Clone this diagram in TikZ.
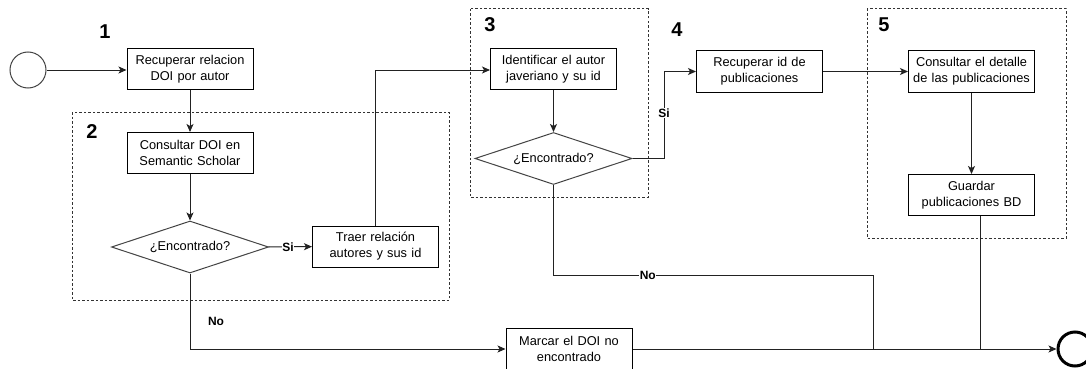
\documentclass[tikz,border=0pt]{standalone}
\usepackage{fontspec}
\setmainfont{Liberation Sans}
\usetikzlibrary{shapes.geometric,arrows.meta}

\definecolor{lineclr}{HTML}{222222}
\definecolor{diaclr}{HTML}{444444}
\definecolor{grpclr}{HTML}{333333}

\tikzset{
  proc/.style={draw=black, line width=1pt, fill=white, minimum width=125pt,
    minimum height=41pt, inner sep=1pt, align=center, text width=124pt,
    font=\fontsize{12.8}{16}\selectfont},
  decision/.style={diamond, draw=diaclr, line width=1pt, fill=white, aspect=3,
    minimum width=157pt, minimum height=52pt, inner sep=0pt,
    font=\fontsize{12.8}{16}\selectfont},
  group/.style={draw=grpclr, line width=1pt, dash pattern=on 2.5pt off 2pt},
  stepnum/.style={font=\fontsize{20}{24}\selectfont\bfseries},
  flow/.style={draw=lineclr, line width=1pt, -{Stealth[length=8pt,width=7pt,inset=2pt]}},
  plain/.style={draw=lineclr, line width=1pt},
  edgelbl/.style={font=\fontsize{12}{14}\selectfont\bfseries, fill=white, inner sep=0.5pt},
}

\begin{document}
\begin{tikzpicture}[x=1pt,y=-1pt]
\clip (0,0) rectangle (1086,369);
\fill[white] (0,0) rectangle (1086,369);

% group frames
\draw[group] (72,112) rectangle (449,300);
\draw[group] (470,9) rectangle (648,197);
\draw[group] (867,9) rectangle (1066,238);

% step numbers
\node[stepnum] (n1) at (105,32) {1};
\node[stepnum] (n2) at (92,132) {2};
\node[stepnum] (n3) at (490,25) {3};
\node[stepnum] (n4) at (677,30) {4};
\node[stepnum] (n5) at (884,25) {5};

% events
\node[circle, draw=diaclr, line width=1pt, minimum size=36pt, inner sep=0pt] (start) at (28,70) {};
\node[circle, draw=black, line width=3pt, minimum size=34pt, inner sep=0pt] (stop) at (1075,349) {};

% activities
\node[proc] (b1) at (190,69) {Recuperar relacion\\DOI por autor};
\node[proc] (b2) at (190,153) {Consultar DOI en\\Semantic Scholar};
\node[decision] (d1) at (190,247) {¿Encontrado?};
\node[proc] (b3) at (375.5,246.5) {Traer relación\\autores y sus id};
\node[proc] (b4) at (553.5,69) {Identificar el autor\\javeriano y su id};
\node[decision] (d2) at (553.5,158.5) {¿Encontrado?};
\node[proc] (b5) at (759.5,71.5) {Recuperar id de\\publicaciones};
\node[proc] (b6) at (971.5,71.5) {Consultar el detalle\\de las publicaciones};
\node[proc] (b7) at (971.5,195) {Guardar\\publicaciones BD};
\node[proc] (b8) at (569,349) {Marcar el DOI no\\encontrado};

% routing points
\coordinate (c1) at (375,70);
\coordinate (c2) at (664,158.5);
\coordinate (c3) at (553.5,275);
\coordinate (c4) at (873,275);
\coordinate (c5) at (873,349);
\coordinate (c6) at (980,349);
\coordinate (c7) at (190,349);

% connectors
\draw[flow] (start) -- (start -| b1.west);
\draw[flow] (b1) -- (b2);
\draw[flow] (b2) -- (d1);
\draw[flow] (d1) -- node[edgelbl, pos=0.45] (si1) {Si} (b3);
\draw[flow] (b3.north -| c1) -- (c1) -- (c1 -| b4.west);
\draw[flow] (b4) -- (d2);
\draw[flow] (d2.east) -- (c2) |- node[edgelbl, pos=0.26] (si2) {Si} (b5.west);
\draw[flow] (b5) -- (b6);
\draw[flow] (b6) -- (b7);
\draw[plain] (d2.south) -- (c3) -- node[edgelbl, pos=0.295] (no2) {No} (c4) -- (c5);
\draw[plain] (b7.south -| c6) -- (c6);
\draw[flow] (d1.south) -- (c7) -- (b8.west);
\node[font=\fontsize{12}{14}\selectfont\bfseries] (no1) at (216,321) {No};
\draw[flow] (b8.east) -- (stop.west);
\end{tikzpicture}
\end{document}
